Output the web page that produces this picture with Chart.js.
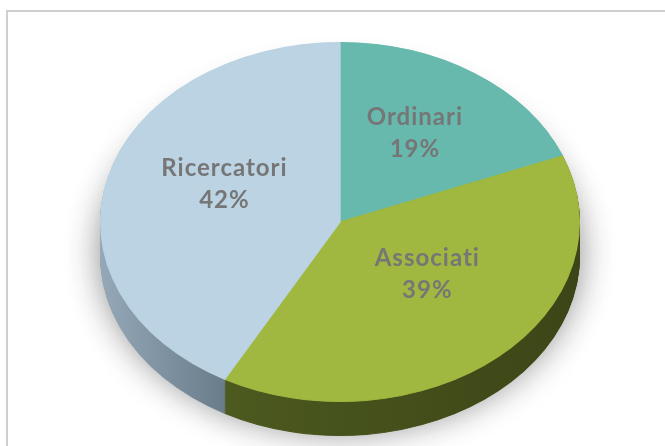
<!DOCTYPE html>
<html>
<head>
<meta charset="utf-8">
<script src="https://cdn.jsdelivr.net/npm/chart.js@4"></script>
<style>
  html, body { margin: 0; padding: 0; background: #fff; }
  .frame {
    position: absolute; left: 6px; top: 10px; right: 0; bottom: 0;
    border-top: 2px solid #cfcfcf; border-left: 2px solid #cfcfcf;
  }
  #pie { position: absolute; left: 0; top: 0; }
</style>
</head>
<body>
<div class="frame"></div>
<canvas id="pie" width="665" height="446"></canvas>
<script>
// DATA
const categories = ['Ordinari', 'Associati', 'Ricercatori'];
const shares = [19, 39, 42];

// colours of the top face and of the rim
const topColors = ['#67b9ad', '#a0b83f', '#bbd3e3'];
const sideStops = [
  [[0, '#3f7d74'], [1, '#2f6159']],
  [[0, '#5f6d28'], [0.3, '#4b581e'], [1, '#3c4517']],
  [[0, '#94a8b8'], [0.25, '#6b7e8c'], [1, '#5d6d79']]
];

const stretchX = 240 / 180; // pie is drawn round, then widened into an ellipse
const depth = 34;
const labelColor = '#767676';

function drawArcAs(arc, ctx, fill) {
  const saved = arc.options;
  arc.options = Object.assign({}, saved, { backgroundColor: fill, borderColor: fill });
  arc.draw(ctx);
  arc.options = saved;
}

const pie3d = {
  id: 'pie3d',
  beforeDatasetsDraw(chart) {
    const ctx = chart.ctx;
    const arcs = chart.getDatasetMeta(0).data;
    const cx = arcs[0].x, cy = arcs[0].y, r = arcs[0].outerRadius;

    ctx.save();
    ctx.translate(cx, cy);
    ctx.scale(stretchX, 1);
    ctx.translate(-cx, -cy);

    const grads = sideStops.map(stops => {
      const g = ctx.createLinearGradient(cx - r, 0, cx + r, 0);
      stops.forEach(s => g.addColorStop(s[0], s[1]));
      return g;
    });

    // soft shadow under the whole disc
    ctx.save();
    ctx.shadowColor = 'rgba(0,0,0,0.45)';
    ctx.shadowBlur = 34;
    ctx.shadowOffsetY = 2;
    ctx.translate(0, depth - 6);
    arcs.forEach((a, i) => drawArcAs(a, ctx, grads[i]));
    ctx.restore();

    // rim, stacked from the bottom up
    for (let d = depth; d > 0; d--) {
      ctx.save();
      ctx.translate(0, d);
      arcs.forEach((a, i) => drawArcAs(a, ctx, grads[i]));
      ctx.restore();
    }
    // the top faces are drawn by Chart.js with this transform still on
  },
  afterDatasetsDraw(chart) {
    const ctx = chart.ctx;
    ctx.restore();

    const arcs = chart.getDatasetMeta(0).data;
    const total = shares.reduce((a, b) => a + b, 0);
    ctx.save();
    ctx.fillStyle = labelColor;
    ctx.font = 'bold 24px Lato';
    ctx.letterSpacing = '1px';
    ctx.textAlign = 'center';
    ctx.textBaseline = 'middle';
    arcs.forEach((a, i) => {
      const mid = (a.startAngle + a.endAngle) / 2;
      const x = a.x + 5 + Math.cos(mid) * a.outerRadius * 0.52 * stretchX;
      const y = a.y - 15 + Math.sin(mid) * a.outerRadius * 0.5;
      const pct = Math.round(shares[i] / total * 100) + '%';
      ctx.fillText(categories[i], x, y - 16);
      ctx.fillText(pct, x, y + 16);
    });
    ctx.restore();
  }
};

new Chart(document.getElementById('pie'), {
  type: 'pie',
  data: {
    labels: categories,
    datasets: [{
      data: shares,
      backgroundColor: topColors,
      borderColor: topColors,
      borderWidth: 1,
      clip: false
    }]
  },
  options: {
    responsive: false,
    devicePixelRatio: 1,
    animation: false,
    events: [],
    layout: { padding: { left: 15, right: 0, top: 42, bottom: 44 } },
    plugins: { legend: { display: false }, tooltip: { enabled: false } }
  },
  plugins: [pie3d]
});
</script>
</body>
</html>
